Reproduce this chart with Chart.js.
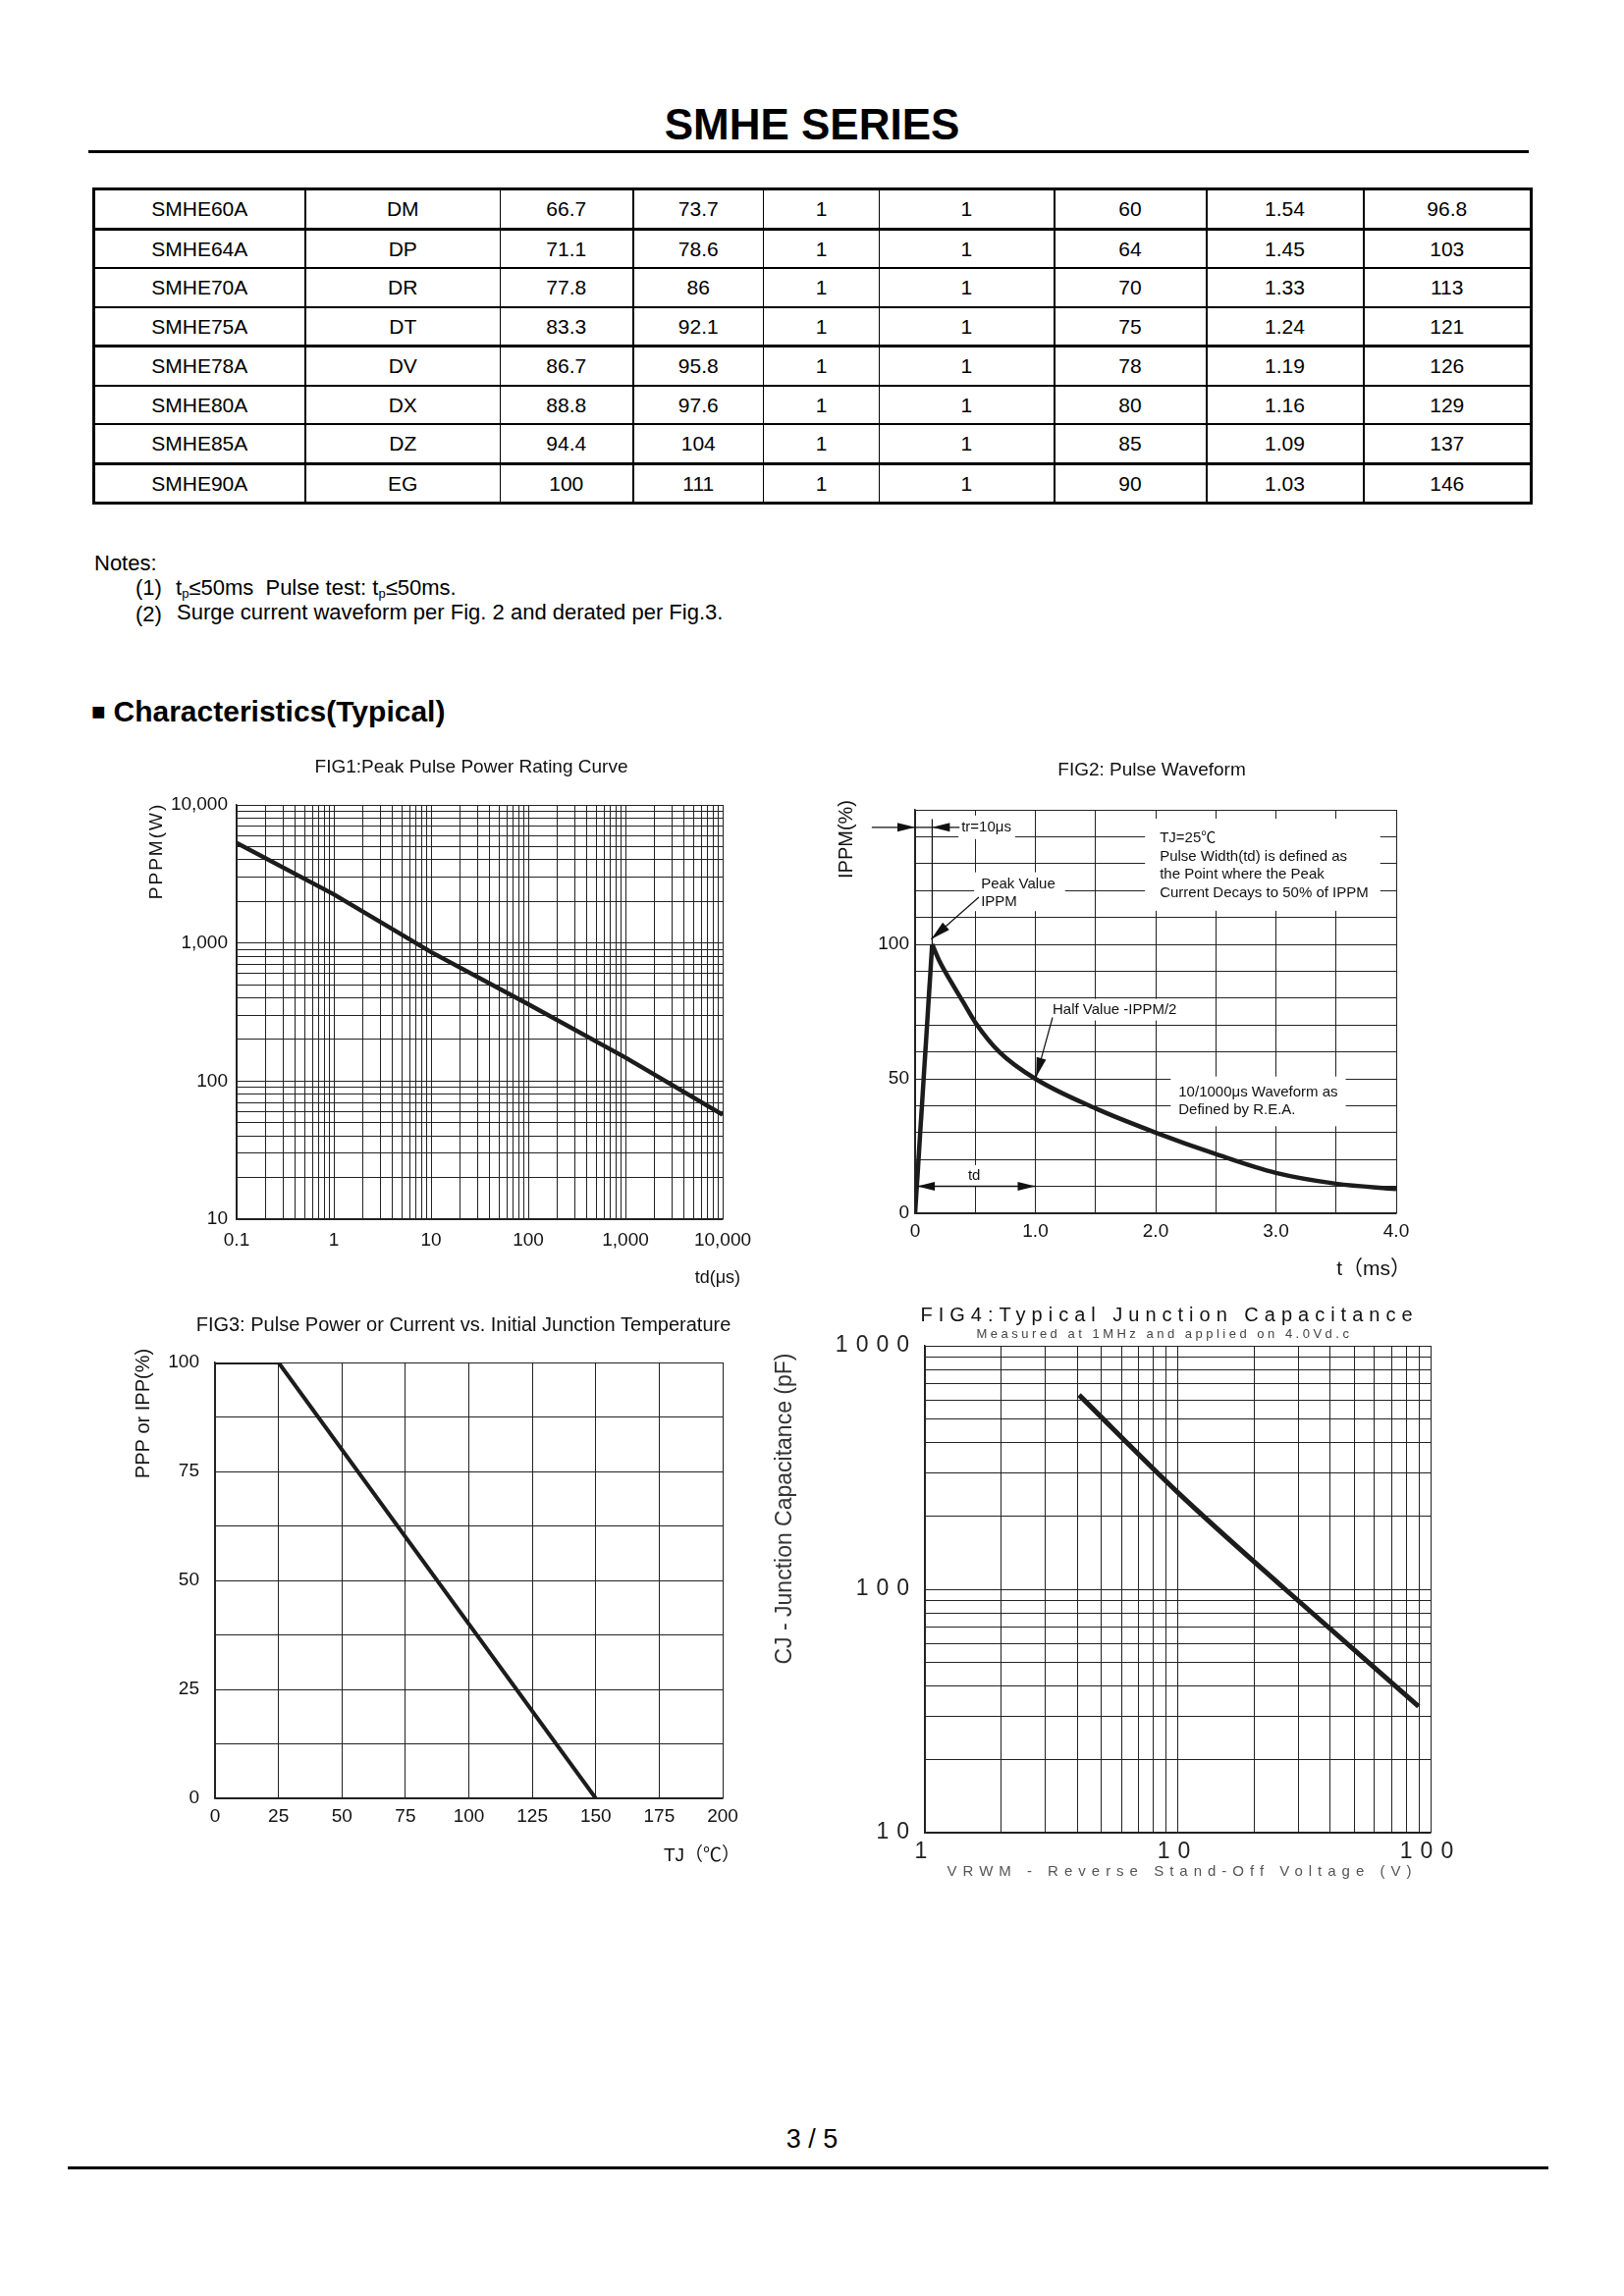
<!DOCTYPE html>
<html>
<head>
<meta charset="utf-8">
<script src="https://cdn.jsdelivr.net/npm/chart.js@4.4.1/dist/chart.umd.min.js"></script>
<style>
  html, body { margin: 0; padding: 0; background: #fff; }
  #page { position: relative; width: 1654px; height: 2339px; overflow: hidden;
          font-family: "Liberation Sans", Arial, "Noto Sans CJK SC", sans-serif; color: #000; }
  .abs { position: absolute; }
  #title { left: 0; width: 1654px; top: 101px; text-align: center; font-weight: bold; font-size: 44px; line-height: 52px; }
  .rule { background: #000; height: 3px; }
  #spec { left: 94px; top: 191px; border-collapse: collapse; table-layout: fixed; }
  #spec td { height: 37.5px; padding: 0; text-align: center; font-size: 21px; border: 2px solid #000; line-height: 21px; }
  .note { font-size: 22px; line-height: 26px; white-space: nowrap; }
  .note sub { font-size: 13px; vertical-align: -3px; line-height: 0; }
  #sect { left: 93px; top: 706px; font-size: 30px; font-weight: bold; line-height: 38px; white-space: nowrap; }
  #sect span { font-size: 24px; vertical-align: 2px; margin-right: 8px; }
  #pageno { left: 0; width: 1654px; top: 2163px; text-align: center; font-size: 27px; line-height: 32px; }
</style>
</head>
<body>
<div id="page">
  <div id="title" class="abs">SMHE SERIES</div>
  <div class="abs rule" style="left:90px;top:153px;width:1467px;"></div>
  <table id="spec" class="abs"><colgroup id="specCols"></colgroup><tbody id="specBody"></tbody></table>

  <div class="abs note" style="left:96px;top:561px;">Notes:</div>
  <div class="abs note" style="left:138px;top:586px;">(1)</div>
  <div class="abs note" style="left:179px;top:586px;">t<sub>p</sub>≤50ms&nbsp; Pulse test: t<sub>p</sub>≤50ms.</div>
  <div class="abs note" style="left:138px;top:613px;">(2)</div>
  <div class="abs note" style="left:180px;top:611px;">Surge current waveform per Fig. 2 and derated per Fig.3.</div>

  <div id="sect" class="abs"><span>■</span>Characteristics(Typical)</div>

  <canvas id="fig1" class="abs" width="720" height="580" style="left:90px;top:750px;"></canvas>
  <canvas id="fig2" class="abs" width="680" height="580" style="left:820px;top:750px;"></canvas>
  <canvas id="fig3" class="abs" width="720" height="610" style="left:90px;top:1320px;"></canvas>
  <canvas id="fig4" class="abs" width="760" height="630" style="left:760px;top:1310px;"></canvas>

  <div id="pageno" class="abs">3 / 5</div>
  <div class="abs rule" style="left:69px;top:2207px;width:1508px;"></div>
</div>

<script>
// ---- table values ----
const partNo   = ['SMHE60A', 'SMHE64A', 'SMHE70A', 'SMHE75A', 'SMHE78A', 'SMHE80A', 'SMHE85A', 'SMHE90A'];
const marking  = ['DM', 'DP', 'DR', 'DT', 'DV', 'DX', 'DZ', 'EG'];
const vbrMin   = ['66.7', '71.1', '77.8', '83.3', '86.7', '88.8', '94.4', '100'];
const vbrMax   = ['73.7', '78.6', '86', '92.1', '95.8', '97.6', '104', '111'];
const testCur  = ['1', '1', '1', '1', '1', '1', '1', '1'];
const leakCur  = ['1', '1', '1', '1', '1', '1', '1', '1'];
const standOff = ['60', '64', '70', '75', '78', '80', '85', '90'];
const peakCur  = ['1.54', '1.45', '1.33', '1.24', '1.19', '1.16', '1.09', '1.03'];
const clampV   = ['96.8', '103', '113', '121', '126', '129', '137', '146'];

// ---- FIG1: peak pulse power rating curve ----
const fig1Td = [0.1, 1, 10, 100, 1000, 10000];
const fig1Ppk = [5300, 2250, 860, 360, 148, 57];
const fig1XTicks = [0.1, 1, 10, 100, 1000, 10000];
const fig1XLabels = ['0.1', '1', '10', '100', '1,000', '10,000'];
const fig1YTicks = [10, 100, 1000, 10000];
const fig1YLabels = ['10', '100', '1,000', '10,000'];

// ---- FIG2: pulse waveform ----
const fig2RiseT = [0, 0.142];
const fig2RiseI = [0, 100];
const fig2DecayT = [0.142, 0.2, 0.3, 0.4, 0.5, 0.7, 1.0, 1.5, 2.0, 2.5, 3.0, 3.5, 4.0];
const fig2DecayI = [100, 94, 86, 78.5, 71, 60, 50, 39, 30, 22, 15, 11, 9];
const fig2XTicks = [0, 1, 2, 3, 4];
const fig2XLabels = ['0', '1.0', '2.0', '3.0', '4.0'];
const fig2YTicks = [0, 50, 100];
const fig2YLabels = ['0', '50', '100'];

// ---- FIG3: derating vs junction temperature ----
const fig3Tj = [0, 25, 150];
const fig3Pct = [100, 100, 0];
const fig3XTicks = [0, 25, 50, 75, 100, 125, 150, 175, 200];
const fig3XLabels = ['0', '25', '50', '75', '100', '125', '150', '175', '200'];
const fig3YTicks = [0, 25, 50, 75, 100];
const fig3YLabels = ['0', '25', '50', '75', '100'];

// ---- FIG4: junction capacitance ----
const fig4Vrwm = [4.07, 10, 26.6, 89.7];
const fig4Cj = [628, 250, 100, 33];
const fig4XTicks = [1, 10, 100];
const fig4XLabels = ['1', '10', '100'];
const fig4YTicks = [10, 100, 1000];
const fig4YLabels = ['10', '100', '1000'];

// ---- build table ----
(function () {
  const colW = [215, 199, 135, 133, 118, 178, 155, 160, 171];
  const vLine = [3, 2, 1, 2, 1, 1, 2, 2, 2, 3];      // left edge of each column, last = right edge
  const hLine = [3, 3, 2, 2, 3, 2, 2, 3, 3];         // top edge of each row, last = bottom edge
  const cols = document.getElementById('specCols');
  colW.forEach(w => { const c = document.createElement('col'); c.style.width = w + 'px'; cols.appendChild(c); });
  const body = document.getElementById('specBody');
  const columns = [partNo, marking, vbrMin, vbrMax, testCur, leakCur, standOff, peakCur, clampV];
  partNo.forEach((_, r) => {
    const tr = document.createElement('tr');
    columns.forEach((col, c) => {
      const td = document.createElement('td');
      td.textContent = col[r];
      td.style.borderLeftWidth = vLine[c] + 'px';
      td.style.borderRightWidth = vLine[c + 1] + 'px';
      td.style.borderTopWidth = hLine[r] + 'px';
      td.style.borderBottomWidth = hLine[r + 1] + 'px';
      tr.appendChild(td);
    });
    body.appendChild(tr);
  });
})();

// ---- chart helpers ----
const FONT = '"Liberation Sans", Arial, "Noto Sans CJK SC", sans-serif';
const LINE = '#222';
const CURVE = '#1c1c1c';
Chart.defaults.font.family = FONT;
Chart.defaults.color = '#111';

function logGrid(min, max) {
  const out = [];
  for (let e = Math.floor(Math.log10(min)); e <= Math.ceil(Math.log10(max)); e++) {
    for (let m = 1; m <= 9; m++) {
      const v = +(m * Math.pow(10, e)).toPrecision(6);
      if (v >= min * 0.999 && v <= max * 1.001) out.push(v);
    }
  }
  return out;
}

function pickLabel(vals, labels) {
  return v => {
    const i = vals.findIndex(t => Math.abs(t - v) <= Math.abs(t) * 1e-6 + 1e-9);
    return i < 0 ? '' : labels[i];
  };
}

function axis(kind, min, max, tickVals, tickLabels, o) {
  const a = {
    type: kind, min: min, max: max,
    border: { display: true, color: LINE, width: 1.5 },
    grid: { color: LINE, lineWidth: 1, drawTicks: false },
    ticks: { autoSkip: false, maxRotation: 0, padding: o.pad, color: o.color || '#111',
             font: { size: o.size }, callback: pickLabel(tickVals, tickLabels) },
    afterFit: s => { if (o.width) s.width = o.width; if (o.height) s.height = o.height; }
  };
  if (kind === 'logarithmic') {
    a.afterBuildTicks = s => { s.ticks = logGrid(min, max).map(value => ({ value })); };
  } else {
    a.ticks.stepSize = o.step;
  }
  return a;
}

function drawText(ctx, t) {
  ctx.save();
  ctx.font = (t.weight || 'normal') + ' ' + t.size + 'px ' + FONT;
  ctx.fillStyle = t.color || '#111';
  ctx.letterSpacing = t.spacing || '0px';
  ctx.textAlign = t.align || 'center';
  ctx.textBaseline = 'middle';
  ctx.translate(t.x, t.y);
  if (t.rotate) ctx.rotate(t.rotate);
  ctx.fillText(t.text, 0, 0);
  ctx.restore();
}

const decor = {
  id: 'decor',
  beforeDraw(chart, args, o) {
    chart.ctx.letterSpacing = o.tickSpacing || '0px';
  },
  afterDraw(chart, args, o) {
    const ctx = chart.ctx;
    ctx.letterSpacing = '0px';
    (o.texts || []).forEach(t => drawText(ctx, t));
    if (o.extra) o.extra(chart);
  }
};
Chart.register(decor);

function lineSet(xs, ys, extra) {
  return Object.assign({
    data: xs.map((x, i) => ({ x: x, y: ys[i] })),
    borderColor: CURVE, borderWidth: 4.5, pointRadius: 0, fill: false, tension: 0
  }, extra || {});
}

function baseOptions(padding, x, y, decorOpts) {
  return {
    responsive: false, animation: false, devicePixelRatio: 1,
    layout: { padding: padding },
    plugins: { legend: { display: false }, tooltip: { enabled: false }, decor: decorOpts },
    scales: { x: x, y: y }
  };
}

// ---- FIG2 annotations (placed in data units through the scales) ----
function arrowHead(ctx, fx, fy, tx, ty, len, hw) {
  const a = Math.atan2(ty - fy, tx - fx);
  const bx = tx - len * Math.cos(a), by = ty - len * Math.sin(a);
  ctx.beginPath();
  ctx.moveTo(tx, ty);
  ctx.lineTo(bx + hw * Math.sin(a), by - hw * Math.cos(a));
  ctx.lineTo(bx - hw * Math.sin(a), by + hw * Math.cos(a));
  ctx.closePath();
  ctx.fill();
}

const fig2Notes = [
  { x: 0.385, y: 143.5, lines: ['tr=10μs'], pad: [3, 4, 4, 4] },
  { x: 0.548, y: 122.4, lines: ['Peak Value', 'IPPM'], pad: [7, 10, 4, 1] },
  { x: 1.143, y: 75.7, lines: ['Half Value -IPPM/2'], pad: [3, 4, 3, 3] },
  { x: 2.034, y: 139.4, lines: ['TJ=25℃', 'Pulse Width(td) is defined as', 'the Point where the Peak', 'Current Decays to 50% of IPPM'], pad: [15, 12, 12, 10] },
  { x: 2.19, y: 45, lines: ['10/1000μs Waveform as', 'Defined by R.E.A.'], pad: [8, 8, 8, 8] },
  { x: 0.44, y: 13.9, lines: ['td'], pad: [3, 3, 3, 3] }
];

function fig2Extra(chart) {
  const ctx = chart.ctx, xs = chart.scales.x, ys = chart.scales.y;
  const X = v => xs.getPixelForValue(v), Y = v => ys.getPixelForValue(v);
  const lh = 18.6;
  ctx.save();
  ctx.font = '15px ' + FONT;
  ctx.textBaseline = 'middle';
  ctx.textAlign = 'left';
  fig2Notes.forEach(n => {
    const w = Math.max.apply(null, n.lines.map(s => ctx.measureText(s).width));
    const x0 = X(n.x), y0 = Y(n.y);
    ctx.fillStyle = '#fff';
    ctx.fillRect(x0 - n.pad[0], y0 - 8 - n.pad[2], w + n.pad[0] + n.pad[1], (n.lines.length - 1) * lh + 16 + n.pad[2] + n.pad[3]);
    ctx.fillStyle = '#111';
    n.lines.forEach((s, i) => ctx.fillText(s, x0, y0 + i * lh));
  });

  ctx.strokeStyle = '#111';
  ctx.fillStyle = '#111';
  ctx.lineWidth = 1.2;
  // tr dimension
  ctx.beginPath();
  ctx.moveTo(X(-0.36), Y(143.5)); ctx.lineTo(X(0.37), Y(143.5));
  ctx.moveTo(X(0.142), Y(146.5)); ctx.lineTo(X(0.142), Y(100));
  ctx.stroke();
  arrowHead(ctx, X(-0.3), Y(143.5), X(0), Y(143.5), 18, 4.5);
  arrowHead(ctx, X(0.4), Y(143.5), X(0.142), Y(143.5), 18, 4.5);
  // peak leader
  ctx.beginPath(); ctx.moveTo(X(0.53), Y(117.5)); ctx.lineTo(X(0.134), Y(101.9)); ctx.stroke();
  arrowHead(ctx, X(0.53), Y(117.5), X(0.134), Y(101.9), 20, 5);
  // half value leader
  ctx.beginPath(); ctx.moveTo(X(1.143), Y(72.8)); ctx.lineTo(X(1.006), Y(50.6)); ctx.stroke();
  arrowHead(ctx, X(1.143), Y(72.8), X(1.006), Y(50.6), 20, 5);
  // td dimension
  ctx.lineWidth = 1.5;
  ctx.beginPath(); ctx.moveTo(X(0.017), Y(10)); ctx.lineTo(X(1.0), Y(10)); ctx.stroke();
  arrowHead(ctx, X(0.5), Y(10), X(0.017), Y(10), 18, 4.5);
  arrowHead(ctx, X(0.5), Y(10), X(1.0), Y(10), 18, 4.5);
  ctx.restore();
}

// ---- FIG1 ----
new Chart(document.getElementById('fig1'), {
  type: 'line',
  data: { datasets: [lineSet(fig1Td, fig1Ppk)] },
  options: baseOptions(
    { top: 70, right: 74, bottom: 10, left: 0 },
    axis('logarithmic', 0.1, 10000, fig1XTicks, fig1XLabels, { height: 78, pad: 10, size: 19 }),
    axis('logarithmic', 10, 10000, fig1YTicks, fig1YLabels, { width: 151, pad: 9, size: 19 }),
    { texts: [
      { text: 'FIG1:Peak Pulse Power Rating Curve', x: 390, y: 32, size: 19 },
      { text: 'PPPM(W)', x: 70, y: 117, size: 19, spacing: '2px', rotate: -Math.PI / 2 },
      { text: 'td(μs)', x: 664, y: 552, size: 18, align: 'right' }
    ] }
  )
});

// ---- FIG2 ----
new Chart(document.getElementById('fig2'), {
  type: 'line',
  data: { datasets: [
    lineSet(fig2RiseT, fig2RiseI),
    lineSet(fig2DecayT, fig2DecayI, { cubicInterpolationMode: 'monotone' })
  ] },
  options: baseOptions(
    { top: 75, right: 78, bottom: 10, left: 0 },
    axis('linear', 0, 4, fig2XTicks, fig2XLabels, { height: 84, pad: 7, size: 19, step: 0.5 }),
    axis('linear', 0, 150, fig2YTicks, fig2YLabels, { width: 112, pad: 6, size: 19, step: 10 }),
    { texts: [
      { text: 'FIG2: Pulse Waveform', x: 353, y: 35, size: 19 },
      { text: 'IPPM(%)', x: 42, y: 105, size: 20, rotate: -Math.PI / 2 },
      { text: 't（ms）', x: 617, y: 543, size: 21, align: 'right' }
    ], extra: fig2Extra }
  )
});

// ---- FIG3 ----
new Chart(document.getElementById('fig3'), {
  type: 'line',
  data: { datasets: [lineSet(fig3Tj, fig3Pct, { borderWidth: 4 })] },
  options: baseOptions(
    { top: 68, right: 74, bottom: 10, left: 0 },
    axis('linear', 0, 200, fig3XTicks, fig3XLabels, { height: 88, pad: 7, size: 19, step: 25 }),
    axis('linear', 0, 100, fig3YTicks, fig3YLabels, { width: 129, pad: 16, size: 19, step: 12.5 }),
    { texts: [
      { text: 'FIG3: Pulse Power or Current vs. Initial Junction Temperature', x: 382, y: 30, size: 20 },
      { text: 'PPP or IPP(%)', x: 56, y: 120, size: 20, rotate: -Math.PI / 2 },
      { text: 'TJ（℃）', x: 664, y: 571, size: 19, align: 'right' }
    ] }
  )
});

// ---- FIG4 ----
new Chart(document.getElementById('fig4'), {
  type: 'line',
  data: { datasets: [lineSet(fig4Vrwm, fig4Cj, { borderWidth: 5, cubicInterpolationMode: 'monotone' })] },
  options: baseOptions(
    { top: 61, right: 63, bottom: 10, left: 0 },
    axis('logarithmic', 1, 100, fig4XTicks, fig4XLabels, { height: 63, pad: 6, size: 23, color: '#222' }),
    axis('logarithmic', 10, 1000, fig4YTicks, fig4YLabels, { width: 182, pad: 8, size: 23, color: '#222' }),
    { tickSpacing: '8px', texts: [
      { text: 'FIG4:Typical Junction Capacitance', x: 431, y: 30, size: 20, spacing: '6px' },
      { text: 'Measured at 1MHz and applied on 4.0Vd.c', x: 426, y: 49, size: 13, spacing: '3.5px', color: '#444' },
      { text: 'CJ - Junction Capacitance (pF)', x: 40, y: 227, size: 23, color: '#333', rotate: -Math.PI / 2 },
      { text: 'VRWM - Reverse Stand-Off Voltage (V)', x: 444, y: 597, size: 15, spacing: '6px', color: '#555' }
    ] }
  )
});
</script>
</body>
</html>
